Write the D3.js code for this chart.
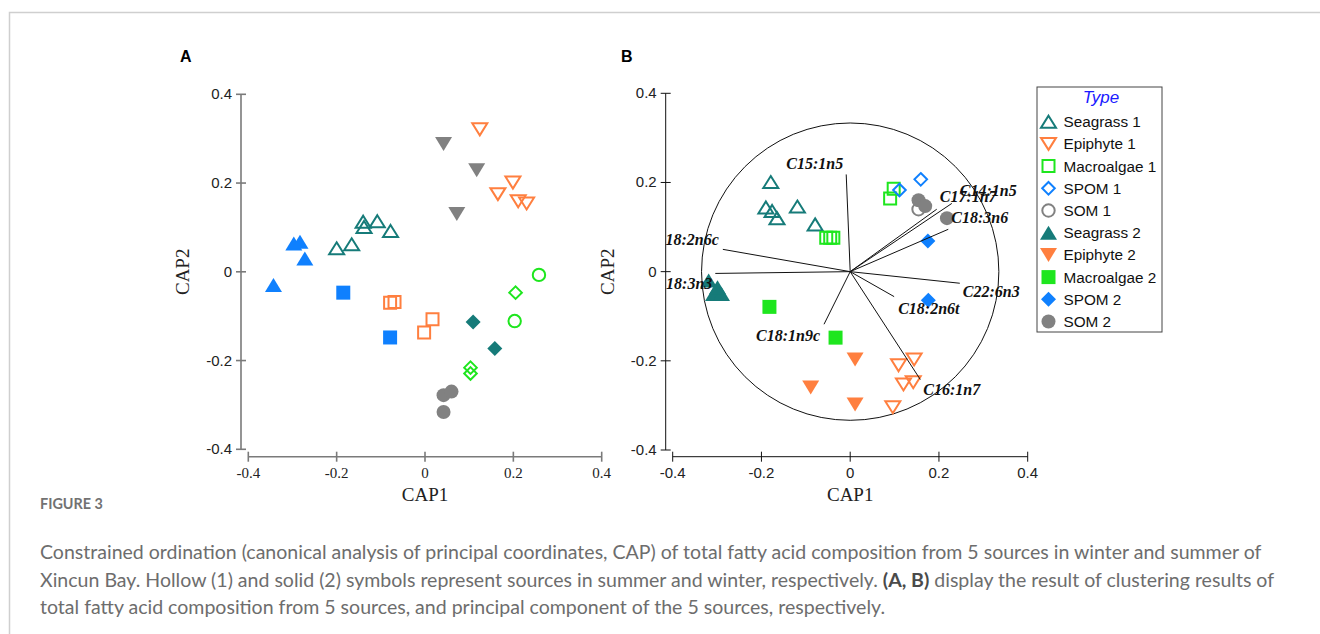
<!DOCTYPE html>
<html>
<head>
<meta charset="utf-8">
<script src="https://cdn.jsdelivr.net/npm/d3@7"></script>
<style>
  body { margin: 0; background: #fff; }
  svg { display: block; }
</style>
</head>
<body>
<svg id="canvas" width="1320" height="634"></svg>
<script>
// ---- data ----
// panel A
var aBlueTri = [[-0.297,0.064],[-0.283,0.068],[-0.272,0.030],[-0.343,-0.030]];
var aTealTriOpen = [[-0.200,0.053],[-0.166,0.062],[-0.140,0.113],[-0.138,0.101],[-0.108,0.114],[-0.078,0.092]];
var aGreyTriDown = [[0.042,0.288],[0.117,0.229],[0.072,0.130]];
var aOrangeTriDownOpen = [[0.124,0.321],[0.165,0.175],[0.199,0.201],[0.211,0.159],[0.230,0.154]];
var aGreenCircleOpen = [[0.258,-0.007],[0.203,-0.111]];
var aGreenDiamondOpen = [[0.205,-0.047],[0.103,-0.216],[0.103,-0.229]];
var aTealDiamond = [[0.109,-0.113],[0.158,-0.173]];
var aBlueSquare = [[-0.185,-0.047],[-0.079,-0.148]];
var aOrangeSquareOpen = [[-0.079,-0.070],[-0.069,-0.068],[0.017,-0.107],[-0.002,-0.137]];
var aGreyCircle = [[0.042,-0.278],[0.060,-0.270],[0.042,-0.316]];

// panel B
var types = ['Seagrass 1','Epiphyte 1','Macroalgae 1','SPOM 1','SOM 1','Seagrass 2','Epiphyte 2','Macroalgae 2','SPOM 2','SOM 2'];
var bSeagrass1 = [[-0.179,0.201],[-0.190,0.144],[-0.176,0.136],[-0.165,0.120],[-0.119,0.146],[-0.079,0.106]];
var bEpiphyte1 = [[0.109,-0.210],[0.144,-0.197],[0.120,-0.253],[0.142,-0.248],[0.096,-0.304]];
var bMacroalgae1 = [[-0.054,0.076],[-0.045,0.076],[-0.038,0.076],[0.090,0.164],[0.098,0.186]];
var bSpom1 = [[0.111,0.183],[0.159,0.207]];
var bSom1 = [[0.154,0.140]];
var bSeagrass2 = [[-0.319,-0.020],[-0.308,-0.050],[-0.290,-0.050],[-0.299,-0.035]];
var bEpiphyte2 = [[0.011,-0.197],[-0.089,-0.260],[0.011,-0.298]];
var bMacroalgae2 = [[-0.182,-0.079],[-0.033,-0.148]];
var bSpom2 = [[0.175,0.069],[0.176,-0.064]];
var bSom2 = [[0.154,0.160],[0.169,0.147],[0.218,0.120]];

var vectorNames = ['C15:1n5','18:2n6c','18:3n3','C14:1n5','C17:1n7','C18:3n6','C22:6n3','C18:2n6t','C18:1n9c','C16:1n7'];
var vectorX = [-0.009,-0.287,-0.304,0.229,0.195,0.221,0.247,0.099,-0.059,0.158];
var vectorY = [0.218,0.050,-0.004,0.153,0.140,0.095,-0.026,-0.056,-0.118,-0.242];
var circleRadius = 0.335;

var ticks = [-0.4,-0.2,0,0.2,0.4];
var tickLabels = ['-0.4','-0.2','0','0.2','0.4'];

var captionLines = [
  'Constrained ordination (canonical analysis of principal coordinates, CAP) of total fatty acid composition from 5 sources in winter and summer of',
  ['Xincun Bay. Hollow (1) and solid (2) symbols represent sources in summer and winter, respectively. ', '(A, B)', ' display the result of clustering results of'],
  'total fatty acid composition from 5 sources, and principal component of the 5 sources, respectively.'
];

// ---- styling ----
var col = {teal:'#167b79', orange:'#ff7f3f', green:'#1ee61e', blue:'#0f80fe', grey:'#818181'};
var serif = '"Liberation Serif", "Times New Roman", serif',
  sans = '"Liberation Sans", Arial, sans-serif';

var svg = d3.select('#canvas');

// page frame
svg.append('path').attr('d','M9.5,634V12.5H1320').attr('fill','none').attr('stroke','#cfcfcf').attr('stroke-width',1.5);

function shape(kind, filled) {
  var p;
  if (kind == 'up') p = filled ? 'M0,-7L8.5,7L-8.5,7Z' : 'M0,-6L7.5,6L-7.5,6Z';
  else if (kind == 'down') p = filled ? 'M0,7L8.5,-7L-8.5,-7Z' : 'M0,6L7.5,-6L-7.5,-6Z';
  else if (kind == 'square') p = filled ? 'M-7,-7H7V7H-7Z' : 'M-6,-6H6V6H-6Z';
  else if (kind == 'diamond') p = filled ? 'M0,-7.5L7.5,0L0,7.5L-7.5,0Z' : 'M0,-6.3L6.3,0L0,6.3L-6.3,0Z';
  else { var r = filled ? 7 : 6.2; p = 'M' + r + ',0A' + r + ',' + r + ' 0 1,1 ' + (-r) + ',0A' + r + ',' + r + ' 0 1,1 ' + r + ',0Z'; }
  return p;
}

function drawPoints(g, data, x, y, kind, color, filled) {
  g.selectAll(null).data(data).enter().append('path')
    .attr('transform', function(d) { return 'translate(' + x(d[0]) + ',' + y(d[1]) + ')'; })
    .attr('d', shape(kind, filled))
    .attr('fill', filled ? color : 'none')
    .attr('stroke', filled ? 'none' : color)
    .attr('stroke-width', 2);
}

function drawAxes(x, y, xAxisY, yAxisX, axisColor, axisWidth, xFont, yFont) {
  var gx = svg.append('g').attr('transform', 'translate(0,' + xAxisY + ')');
  gx.append('line').attr('x1', x(-0.4)).attr('x2', x(0.4)).attr('stroke', axisColor).attr('stroke-width', axisWidth);
  gx.selectAll('.t').data(ticks).enter().append('line')
    .attr('x1', x).attr('x2', x).attr('y1', -5).attr('y2', 5)
    .attr('stroke', axisColor).attr('stroke-width', axisWidth);
  gx.selectAll('.l').data(ticks).enter().append('text')
    .attr('x', x).attr('y', 21).attr('text-anchor', 'middle')
    .style('font-family', xFont).style('font-size', '15px').attr('fill', '#222')
    .text(function(d, i) { return tickLabels[i]; });

  var gy = svg.append('g').attr('transform', 'translate(' + yAxisX + ',0)');
  gy.append('line').attr('y1', y(-0.4)).attr('y2', y(0.4)).attr('stroke', axisColor).attr('stroke-width', axisWidth);
  gy.selectAll('.t').data(ticks).enter().append('line')
    .attr('y1', y).attr('y2', y).attr('x1', -5).attr('x2', 5)
    .attr('stroke', axisColor).attr('stroke-width', axisWidth);
  gy.selectAll('.l').data(ticks).enter().append('text')
    .attr('x', -9).attr('y', function(d) { return y(d) + 5; }).attr('text-anchor', 'end')
    .style('font-family', yFont).style('font-size', '15px').attr('fill', '#222')
    .text(function(d, i) { return tickLabels[i]; });

  svg.append('text').attr('x', x(0)).attr('y', xAxisY + 44).attr('text-anchor', 'middle')
    .style('font-family', serif).style('font-size', '19px').attr('fill', '#222').text('CAP1');
  svg.append('text').attr('transform', 'translate(' + (yAxisX - 52) + ',' + y(0) + ')rotate(-90)')
    .attr('text-anchor', 'middle')
    .style('font-family', serif).style('font-size', '19px').attr('fill', '#222').text('CAP2');
}

// ---- panel A ----
var xA = d3.scaleLinear().domain([-0.4, 0.4]).range([248.3, 601.7]),
  yA = d3.scaleLinear().domain([-0.4, 0.4]).range([449.3, 94.3]);
svg.append('text').attr('x', 180).attr('y', 62).style('font-family', sans).style('font-weight', 'bold')
  .style('font-size', '16px').text('A');
drawAxes(xA, yA, 456.7, 241, '#7a7a7a', 1.6, serif, sans);
var gA = svg.append('g');
drawPoints(gA, aTealTriOpen, xA, yA, 'up', col.teal, false);
drawPoints(gA, aBlueTri, xA, yA, 'up', col.blue, true);
drawPoints(gA, aGreyTriDown, xA, yA, 'down', col.grey, true);
drawPoints(gA, aOrangeTriDownOpen, xA, yA, 'down', col.orange, false);
drawPoints(gA, aGreenCircleOpen, xA, yA, 'circle', col.green, false);
drawPoints(gA, aGreenDiamondOpen, xA, yA, 'diamond', col.green, false);
drawPoints(gA, aTealDiamond, xA, yA, 'diamond', col.teal, true);
drawPoints(gA, aBlueSquare, xA, yA, 'square', col.blue, true);
drawPoints(gA, aOrangeSquareOpen, xA, yA, 'square', col.orange, false);
drawPoints(gA, aGreyCircle, xA, yA, 'circle', col.grey, true);

// ---- panel B ----
var xB = d3.scaleLinear().domain([-0.4, 0.4]).range([672.7, 1027.7]),
  yB = d3.scaleLinear().domain([-0.4, 0.4]).range([450, 93.3]);
svg.append('text').attr('x', 621).attr('y', 62).style('font-family', sans).style('font-weight', 'bold')
  .style('font-size', '16px').text('B');
drawAxes(xB, yB, 456.7, 665.7, '#111', 1, sans, sans);

var gB = svg.append('g');
gB.append('circle').attr('cx', xB(0)).attr('cy', yB(0)).attr('r', xB(circleRadius) - xB(0))
  .attr('fill', 'none').attr('stroke', '#111').attr('stroke-width', 1);

var bSeries = [bSeagrass1, bEpiphyte1, bMacroalgae1, bSpom1, bSom1, bSeagrass2, bEpiphyte2, bMacroalgae2, bSpom2, bSom2];
var bKind = ['up', 'down', 'square', 'diamond', 'circle', 'up', 'down', 'square', 'diamond', 'circle'];
var bColor = [col.teal, col.orange, col.green, col.blue, col.grey, col.teal, col.orange, col.green, col.blue, col.grey];
bSeries.forEach(function(s, i) {
  drawPoints(gB, s, xB, yB, bKind[i], bColor[i], i >= 5);
});

// vectors and their labels (label offsets in px from the vector tip)
var labelDx = [-3, -4, -3, 8, 3, 3, 3, 4, -4, 3],
  labelDy = [-5, -4, 16, -7, -7, -6, 14, 17, 17, 15],
  labelAnchor = ['end', 'end', 'end', 'start', 'start', 'start', 'start', 'start', 'end', 'start'];
var vec = gB.append('g');
vec.selectAll('line').data(vectorNames).enter().append('line')
  .attr('x1', xB(0)).attr('y1', yB(0))
  .attr('x2', function(d, i) { return xB(vectorX[i]); })
  .attr('y2', function(d, i) { return yB(vectorY[i]); })
  .attr('stroke', '#111').attr('stroke-width', 1);
vec.selectAll('text').data(vectorNames).enter().append('text')
  .attr('x', function(d, i) { return xB(vectorX[i]) + labelDx[i]; })
  .attr('y', function(d, i) { return yB(vectorY[i]) + labelDy[i]; })
  .attr('text-anchor', function(d, i) { return labelAnchor[i]; })
  .style('font-family', serif).style('font-style', 'italic').style('font-weight', 'bold')
  .style('font-size', '16px').attr('fill', '#111')
  .text(function(d) { return d; });

// legend
var lg = svg.append('g').attr('transform', 'translate(1037,87)');
lg.append('rect').attr('width', 125).attr('height', 245).attr('fill', 'none')
  .attr('stroke', '#444').attr('stroke-width', 1);
lg.append('text').attr('x', 64).attr('y', 16).attr('text-anchor', 'middle')
  .style('font-family', sans).style('font-style', 'italic').style('font-size', '17px')
  .attr('fill', '#1a1aff').text('Type');
var items = lg.selectAll('.item').data(types).enter().append('g')
  .attr('transform', function(d, i) { return 'translate(11.5,' + (34.7 + i * 22.2) + ')'; });
items.append('path')
  .attr('d', function(d, i) { return shape(bKind[i], i >= 5); })
  .attr('fill', function(d, i) { return i >= 5 ? bColor[i] : 'none'; })
  .attr('stroke', function(d, i) { return i >= 5 ? 'none' : bColor[i]; })
  .attr('stroke-width', 2);
items.append('text').attr('x', 15).attr('y', 5.5)
  .style('font-family', sans).style('font-size', '15.3px').attr('fill', '#111')
  .text(function(d) { return d; });

// ---- caption ----
var capFont = 'Lato, "Open Sans", sans-serif';
var cap = svg.append('g').style('font-family', capFont).attr('fill', '#6d6d6d');
var fig = cap.append('text').attr('x', 40).attr('y', 509).style('font-size', '15px').style('font-weight', 'bold')
  .attr('fill', '#727272').text('FIGURE 3');
fig.style('font-size', (15 * 63 / fig.node().getComputedTextLength()) + 'px');
var lineY = [559, 587, 614];
var capText = cap.selectAll('.cl').data(captionLines).enter().append('text')
  .attr('x', 40).attr('y', function(d, i) { return lineY[i]; })
  .style('font-size', '17px');
capText.each(function(d) {
  var t = d3.select(this);
  if (typeof d == 'string') t.text(d);
  else d.forEach(function(s, j) {
    t.append('tspan').text(s).style('font-weight', j == 1 ? 'bold' : null).attr('fill', j == 1 ? '#4a4a4a' : null);
  });
});
// fit the first caption line to the width it has in the figure
var w0 = capText.node().getComputedTextLength();
capText.style('font-size', (17 * 1222 / w0) + 'px');
</script>
</body>
</html>
